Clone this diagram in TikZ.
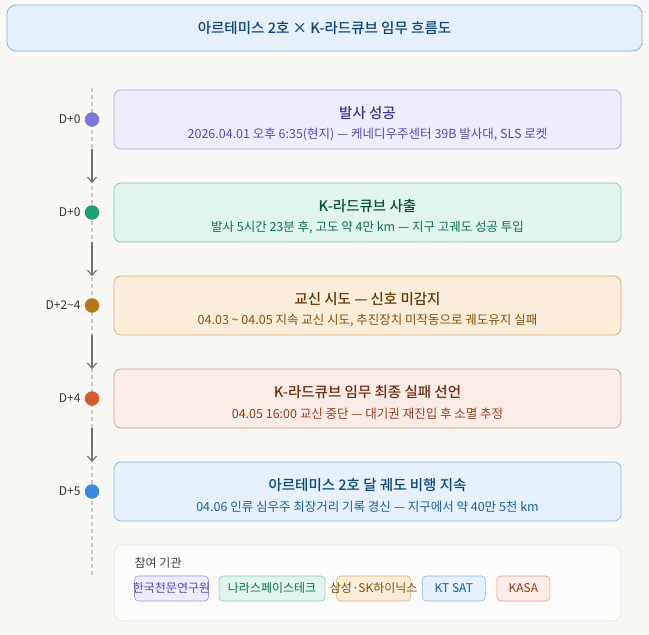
\documentclass[tikz,border=0pt]{standalone}
\usepackage{fontspec}
\setmainfont{Noto Sans CJK KR}[BoldFont={Noto Sans CJK KR Medium}]
\usepackage{xcolor}
\usepackage{tikz}
\usetikzlibrary{positioning, arrows.meta}

\definecolor{bgcol}{HTML}{F9F8F5}
\definecolor{headfill}{HTML}{E6F0FA}
\definecolor{headline}{HTML}{8CAFD6}
\definecolor{headtext}{HTML}{0C447C}
\definecolor{purfill}{HTML}{EEEDFC}
\definecolor{purline}{HTML}{ABA6E3}
\definecolor{purdark}{HTML}{3C3489}
\definecolor{purtext}{HTML}{534AB7}
\definecolor{purdot}{HTML}{7F77DD}
\definecolor{grnfill}{HTML}{E1F5EE}
\definecolor{grnline}{HTML}{86C7AD}
\definecolor{grndark}{HTML}{085041}
\definecolor{grntext}{HTML}{0F6E56}
\definecolor{grndot}{HTML}{1D9E75}
\definecolor{ambfill}{HTML}{FAEEDA}
\definecolor{ambline}{HTML}{D6AC72}
\definecolor{ambdark}{HTML}{633806}
\definecolor{ambtext}{HTML}{854F0B}
\definecolor{ambdot}{HTML}{BA7517}
\definecolor{redfill}{HTML}{FAECE7}
\definecolor{redline}{HTML}{DA9C87}
\definecolor{reddark}{HTML}{712B13}
\definecolor{redtext}{HTML}{993C1D}
\definecolor{reddot}{HTML}{D85A30}
\definecolor{blufill}{HTML}{E6F1FB}
\definecolor{bluline}{HTML}{85B7EB}
\definecolor{bludark}{HTML}{0C447C}
\definecolor{blutext}{HTML}{185FA5}
\definecolor{bludot}{HTML}{378ADD}

\begin{document}
\begin{tikzpicture}[x=1pt, y=-1pt,
    stepbox/.style={rounded corners=7pt, line width=0.7pt, minimum width=507pt, minimum height=59pt, inner sep=0pt},
    steptitle/.style={inner sep=0pt, font=\fontsize{14.5}{16}\selectfont\bfseries},
    stepnote/.style={inner sep=0pt, font=\fontsize{12.5}{14}\selectfont},
    dot/.style={circle, minimum size=14.5pt, inner sep=0pt},
    daylabel/.style={font=\fontsize{12}{14}\selectfont, text=black!80},
    flow/.style={draw=black!55, line width=1.2pt, -{Straight Barb[length=5pt, width=9pt]}, shorten <=22pt, shorten >=22pt},
    chip/.style={rounded corners=4pt, line width=0.6pt, minimum height=25pt, inner sep=0pt, font=\fontsize{12}{14}\selectfont}
]
    \useasboundingbox[fill=bgcol] (0,0) rectangle (649,635);

    % Header
    \node (header) [draw=headline, fill=headfill, rounded corners=9pt, line width=0.7pt, minimum width=635pt, minimum height=46pt, text=headtext, font=\fontsize{14.5}{16}\selectfont\bfseries] at (324.5,28) {아르테미스 2호 × K-라드큐브 임무 흐름도};

    % Timeline axis
    \coordinate (axis_top) at (92,88);
    \coordinate (axis_end) at (92,576);
    \draw [draw=black!22, line width=1.4pt, dash pattern=on 4pt off 3pt] (axis_top) -- (axis_end);

    % Steps
    \node (s1) [stepbox, draw=purline, fill=purfill] at (367.5,119.5) {};
    \node (s1_title) [steptitle, text=purdark] at ([yshift=6.5pt]s1.center) {발사 성공};
    \node (s1_note) [stepnote, text=purtext] at ([yshift=-15pt]s1.center) {2026.04.01 오후 6:35(현지) — 케네디우주센터 39B 발사대, SLS 로켓};

    \node (s2) [stepbox, draw=grnline, fill=grnfill] at (367.5,212.5) {};
    \node (s2_title) [steptitle, text=grndark] at ([yshift=6.5pt]s2.center) {K-라드큐브 사출};
    \node (s2_note) [stepnote, text=grntext] at ([yshift=-15pt]s2.center) {발사 5시간 23분 후, 고도 약 4만 km — 지구 고궤도 성공 투입};

    \node (s3) [stepbox, draw=ambline, fill=ambfill] at (367.5,305.5) {};
    \node (s3_title) [steptitle, text=ambdark] at ([yshift=6.5pt]s3.center) {교신 시도 — 신호 미감지};
    \node (s3_note) [stepnote, text=ambtext] at ([yshift=-15pt]s3.center) {04.03 \textasciitilde{} 04.05 지속 교신 시도, 추진장치 미작동으로 궤도유지 실패};

    \node (s4) [stepbox, draw=redline, fill=redfill] at (367.5,398.5) {};
    \node (s4_title) [steptitle, text=reddark] at ([yshift=6.5pt]s4.center) {K-라드큐브 임무 최종 실패 선언};
    \node (s4_note) [stepnote, text=redtext] at ([yshift=-15pt]s4.center) {04.05 16:00 교신 중단 — 대기권 재진입 후 소멸 추정};

    \node (s5) [stepbox, draw=bluline, fill=blufill] at (367.5,491.5) {};
    \node (s5_title) [steptitle, text=bludark] at ([yshift=6.5pt]s5.center) {아르테미스 2호 달 궤도 비행 지속};
    \node (s5_note) [stepnote, text=blutext] at ([yshift=-15pt]s5.center) {04.06 인류 심우주 최장거리 기록 경신 — 지구에서 약 40만 5천 km};

    % Dots and day labels
    \node (d1) [dot, fill=purdot] at (92,119.5) {};
    \node (d2) [dot, fill=grndot] at (92,212.5) {};
    \node (d3) [dot, fill=ambdot] at (92,305.5) {};
    \node (d4) [dot, fill=reddot] at (92,398.5) {};
    \node (d5) [dot, fill=bludot] at (92,491.5) {};
    \node (l1) [daylabel, left=0.5pt of d1] {D+0};
    \node (l2) [daylabel, left=0.5pt of d2] {D+0};
    \node (l3) [daylabel, left=0.5pt of d3] {D+2\textasciitilde 4};
    \node (l4) [daylabel, left=0.5pt of d4] {D+4};
    \node (l5) [daylabel, left=0.5pt of d5] {D+5};

    % Flow arrows
    \draw [flow] (d1) -- (d2);
    \draw [flow] (d2) -- (d3);
    \draw [flow] (d3) -- (d4);
    \draw [flow] (d4) -- (d5);

    % Participants
    \node (legend) [draw=black!10, fill=white!60!bgcol, rounded corners=9pt, line width=0.6pt, minimum width=507pt, minimum height=76pt] at (367.5,583) {};
    \node (legend_title) [anchor=west, inner sep=0pt, text=black!75, font=\fontsize{12}{14}\selectfont] at (134.5,563) {참여 기관};
    \node (c1) [chip, draw=purdot!80, fill=purfill, text=purtext, minimum width=74pt] at (171.5,588.5) {\makebox[74pt][c]{한국천문연구원}};
    \node (c2) [chip, draw=grnline, fill=grnfill, text=grntext, minimum width=106pt, right=10pt of c1] {\makebox[106pt][c]{나라스페이스테크}};
    \node (c3) [chip, draw=ambline, fill=ambfill, text=ambtext, minimum width=74pt, right=11pt of c2] {\makebox[74pt][c]{삼성·SK하이닉스}};
    \node (c4) [chip, draw=bluline, fill=blufill, text=blutext, minimum width=63pt, right=11pt of c3] {\makebox[63pt][c]{KT SAT}};
    \node (c5) [chip, draw=redline, fill=redfill, text=redtext, minimum width=53pt, right=11pt of c4] {\makebox[53pt][c]{KASA}};
\end{tikzpicture}
\end{document}
